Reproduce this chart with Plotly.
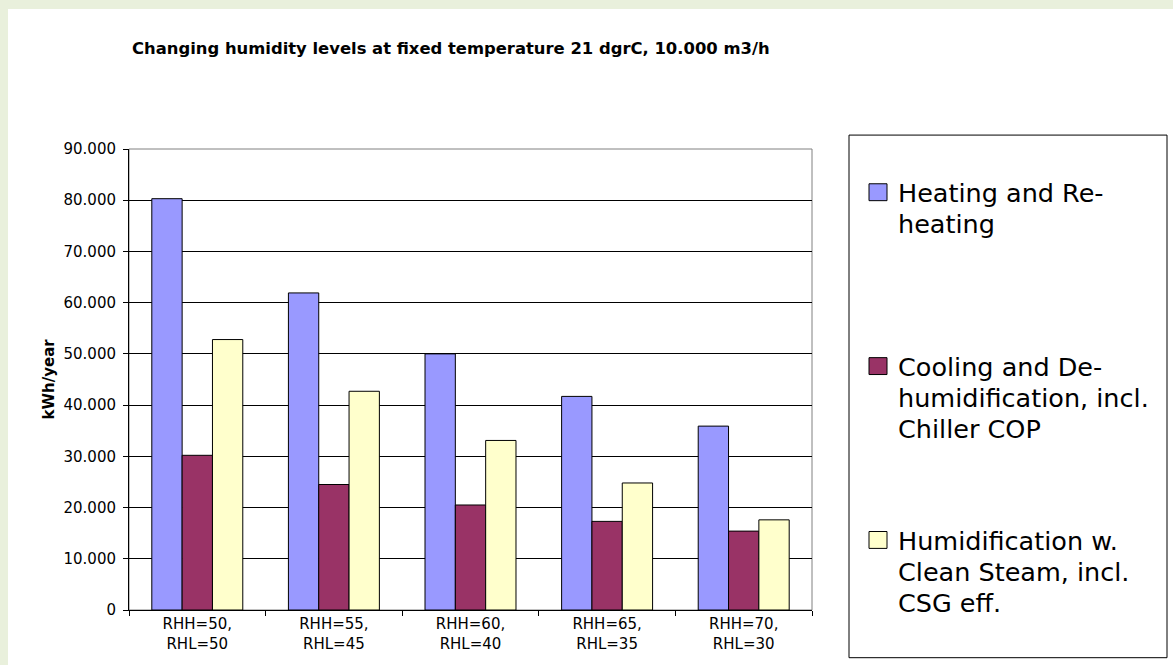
import plotly.graph_objects as go

# Scenario categories (humidity set points) and annual energy use per system, kWh/year
categories = ["RHH=50,<br>RHL=50", "RHH=55,<br>RHL=45", "RHH=60,<br>RHL=40",
              "RHH=65,<br>RHL=35", "RHH=70,<br>RHL=30"]
heating = [80300, 61900, 50000, 41700, 35900]
cooling = [30200, 24500, 20500, 17300, 15400]
humidification = [52800, 42700, 33100, 24800, 17600]

series_names = [
    ["Heating and Re-", "heating"],
    ["Cooling and De-", "humidification, incl.", "Chiller COP"],
    ["Humidification w.", "Clean Steam, incl.", "CSG eff."],
]
series_values = [heating, cooling, humidification]
series_colors = ["#9999FF", "#993366", "#FFFFCC"]

title_text = "Changing humidity levels at fixed temperature 21 dgrC, 10.000 m3/h"
y_title = "kWh/year"

W, H = 1173, 665
PL, PR, PT, PB = 129, 812, 149, 613  # plot area in pixels


def px(x):
    return (x - PL) / (PR - PL)


def py(y):
    return (PB - y) / (PB - PT)


fig = go.Figure()
for name, vals, col in zip(series_names, series_values, series_colors):
    fig.add_trace(go.Bar(
        x=categories, y=vals, name=" ".join(name),
        marker=dict(color=col, line=dict(color="black", width=1)),
        showlegend=False,
    ))

shapes = [
    # white chart panel
    dict(type="rect", xref="paper", yref="paper", layer="below",
         x0=px(8), x1=px(W + 5), y0=py(8), y1=py(H + 5),
         fillcolor="white", line=dict(width=0)),
    # plot area border
    dict(type="rect", xref="paper", yref="paper", layer="below",
         x0=0, x1=1, y0=0, y1=1, fillcolor="rgba(0,0,0,0)",
         line=dict(color="#808080", width=1)),
    # legend frame
    dict(type="rect", xref="paper", yref="paper",
         x0=px(849), x1=px(1167), y0=py(135), y1=py(661),
         fillcolor="white", line=dict(color="black", width=1)),
]

annotations = [
    dict(text=f"<b>{title_text}</b>", xref="paper", yref="paper",
         x=px(451), y=py(48), xanchor="center", yanchor="middle",
         showarrow=False, font=dict(family="DejaVu Sans", size=16.4, color="black")),
    dict(text=f"<b>{y_title}</b>", xref="paper", yref="paper",
         x=px(48), y=py(381), xanchor="center", yanchor="middle", textangle=-90,
         showarrow=False, font=dict(family="DejaVu Sans", size=15, color="black")),
]

# legend entries: swatch plus wrapped label lines
first_baselines = [202, 377, 552]
line_step = 31.5
fs = 25.5
for lines, col, base in zip(series_names, series_colors, first_baselines):
    shapes.append(dict(type="rect", xref="paper", yref="paper",
                       x0=px(869), x1=px(887), y0=py(base - 18), y1=py(base - 1),
                       fillcolor=col, line=dict(color="black", width=1)))
    for i, ln in enumerate(lines):
        b = base + i * line_step
        annotations.append(dict(
            text=ln, xref="paper", yref="paper", x=px(896), y=py(b - 8.8),
            xanchor="left", yanchor="middle", showarrow=False,
            font=dict(family="DejaVu Sans", size=fs, color="black")))

fig.update_layout(
    width=W, height=H,
    margin=dict(l=PL, r=W - PR, t=PT, b=H - PB, pad=0),
    paper_bgcolor="#E9F0DC",
    plot_bgcolor="rgba(0,0,0,0)",
    separators=",.",
    barmode="group", bargap=0.334, bargroupgap=0,
    shapes=shapes, annotations=annotations,
    font=dict(family="DejaVu Sans", size=15, color="black"),
    xaxis=dict(
        showgrid=False, showline=True, linecolor="black", linewidth=1,
        ticks="outside", ticklen=5, tickcolor="black", tickson="boundaries",
        tickfont=dict(family="DejaVu Sans", size=15, color="black"),
    ),
    yaxis=dict(
        range=[0, 90000], dtick=10000, tickformat=",d",
        showgrid=True, gridcolor="black", gridwidth=1,
        showline=True, linecolor="black", linewidth=1, zeroline=False,
        ticks="outside", ticklen=5, tickcolor="black", ticklabelstandoff=4,
        tickfont=dict(family="DejaVu Sans", size=15, color="black"),
    ),
)

fig.write_html("out.html")
